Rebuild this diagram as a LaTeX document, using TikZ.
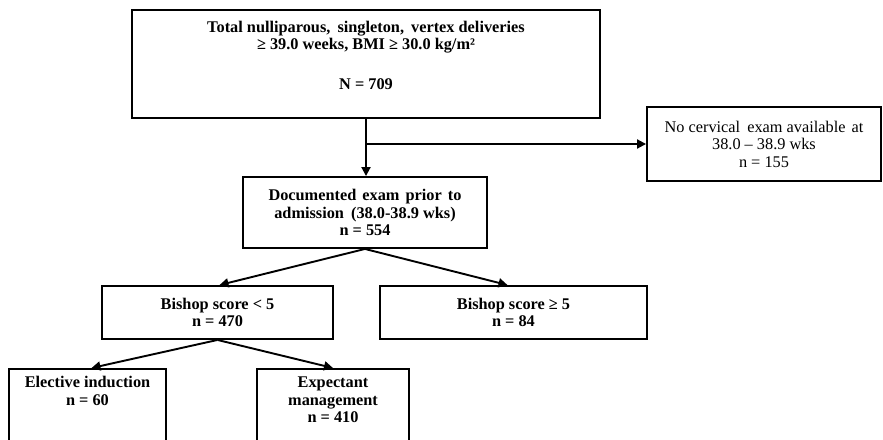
\documentclass[tikz,border=0pt]{standalone}
\usepackage{fontspec}
\setmainfont{Liberation Serif}
\usetikzlibrary{arrows.meta}
\newcommand\tboxtext[4]{\parbox[c][#1][t]{#2}{\centering\rule{0pt}{#3}#4}}
\begin{document}
\begin{tikzpicture}[x=1pt,y=-1pt,
  flowbox/.style={draw, line width=1.9pt, inner sep=0pt, align=center,
    font=\fontsize{16.3}{17.5}\selectfont\bfseries},
  plainbox/.style={flowbox, font=\fontsize{16.3}{17.5}\selectfont},
  arr/.style={line width=1.9pt, -{Triangle[length=9pt,width=9pt]}}]
\useasboundingbox (0,0) rectangle (883,439);
\clip (0,0) rectangle (883,439);

\node[flowbox] (top) at (366,64)
  {\tboxtext{108pt}{468pt}{22pt}{Total nulliparous,\hspace{3pt} singleton,\hspace{3pt} vertex deliveries\\
   ≥ 39.0 weeks, BMI ≥ 30.0 kg/m²\\[22pt] N = 709}};

\node[plainbox, minimum width=234pt, minimum height=74pt] (no) at (764,144)
  {No cervical\hspace{3pt} exam available\hspace{2pt} at\\ 38.0 – 38.9 wks\\ n = 155};

\node[flowbox, minimum width=244pt, minimum height=71pt] (doc) at (365,212.5)
  {Documented\hspace{2pt} exam\hspace{2pt} prior\hspace{2pt} to\\ admission\hspace{3pt} (38.0-38.9 wks)\\ n = 554};

\node[flowbox, minimum width=231pt, minimum height=53pt] (b1) at (217.5,312.5)
  {Bishop score < 5\\ n = 470};

\node[flowbox, minimum width=267pt, minimum height=53pt] (b2) at (513.5,312.5)
  {Bishop score ≥ 5\\ n = 84};

\node[flowbox, anchor=north] (el) at (87.5,368)
  {\tboxtext{100pt}{157pt}{19pt}{Elective induction\\ n = 60}};

\node[flowbox, anchor=north] (ex) at (333,368)
  {\tboxtext{100pt}{152pt}{19pt}{Expectant\\ management\\ n = 410}};

\coordinate (br) at (top.south |- no.west);
\draw[arr] (top.south) -- (top.south |- doc.north);
\draw[arr] (br) -- (no.west);
\draw[arr] (doc.south) -- ([xshift=2pt]b1.north);
\draw[arr] (doc.south) -- ([xshift=-6pt]b2.north);
\draw[arr] (b1.south) -- ([xshift=4pt]el.north);
\draw[arr] (b1.south) -- (ex.north);
\end{tikzpicture}
\end{document}
